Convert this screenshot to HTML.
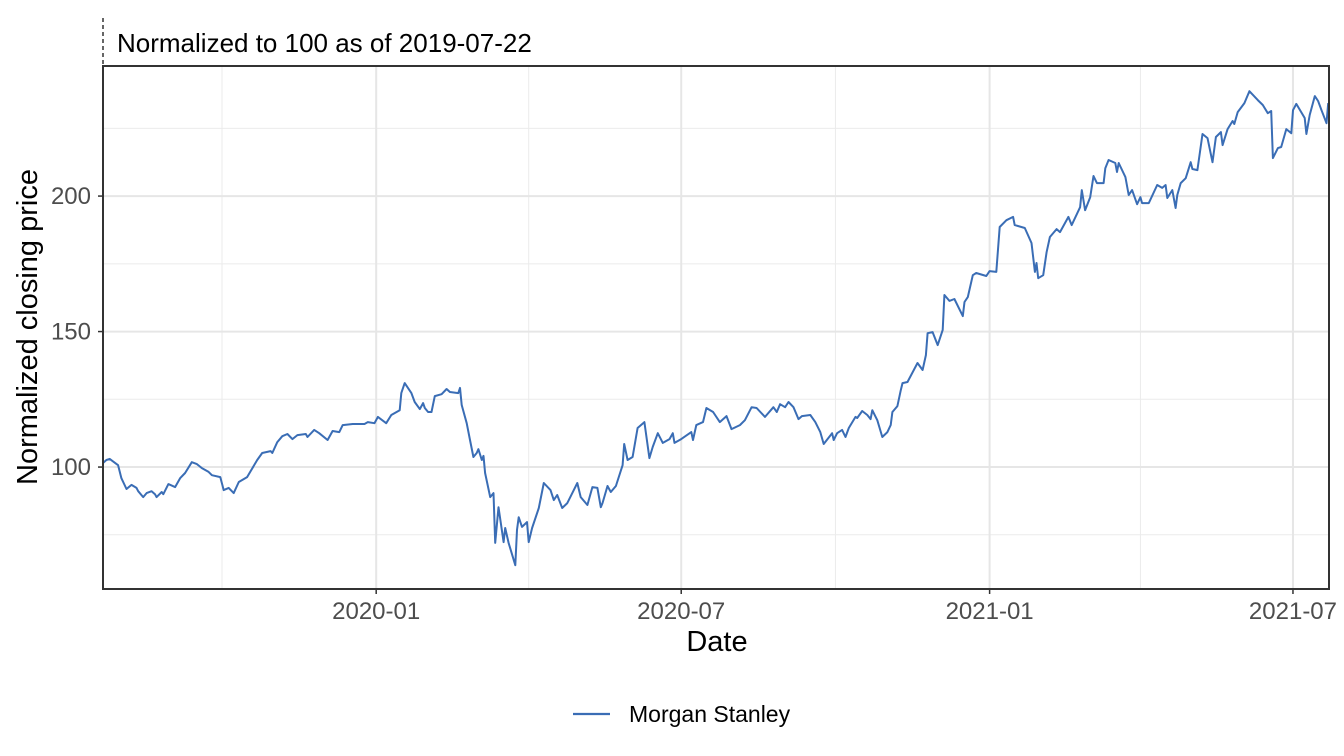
<!DOCTYPE html>
<html><head><meta charset="utf-8"><style>
html,body{margin:0;padding:0;background:#fff;}
svg{display:block;font-family:"Liberation Sans",sans-serif;}
</style></head><body>
<svg id="chart" width="1344" height="756">
<line x1="103" y1="18" x2="103" y2="66" stroke="#000" stroke-dasharray="4,3" stroke-width="1.2"/>
<text x="117" y="52" font-size="26" fill="#000">Normalized to 100 as of 2019-07-22</text>
<g id="grid"></g>
<g id="series"></g>
<rect x="103" y="66" width="1226" height="523" fill="none" stroke="#333" stroke-width="2"/>
<g id="axes"></g>
<text x="717" y="651" font-size="29" text-anchor="middle" fill="#000">Date</text>
<text transform="translate(37,327) rotate(-90)" font-size="29" text-anchor="middle" fill="#000">Normalized closing price</text>
<g>
<line x1="573" y1="714" x2="610" y2="714" stroke="#3a6db5" stroke-width="2.2"/>
<text x="629" y="722" font-size="23" fill="#000">Morgan Stanley</text>
</g>
</svg>
<script>
const days=[0,2,4,9,11,14,17,20,21,24,26,29,31,32,35,36,39,43,46,49,53,56,59,63,65,70,72,75,78,81,86,92,95,100,101,104,107,110,113,116,121,122,126,129,134,137,141,143,149,156,158,162,164,169,172,177,178,180,184,186,189,191,192,194,196,198,202,205,207,212,213,214,217,219,221,223,224,226,227,228,231,233,234,236,239,240,242,246,247,248,250,253,254,256,260,263,267,269,271,274,277,280,283,285,289,292,295,297,298,301,303,306,310,311,313,316,319,323,326,328,331,334,338,340,341,345,351,352,354,358,360,364,368,372,375,380,383,387,390,395,400,402,404,407,409,412,415,417,422,425,428,430,435,436,438,441,443,445,449,450,453,456,458,459,462,465,468,470,471,474,476,477,480,486,489,491,492,495,498,501,502,505,508,513,514,516,519,521,527,529,533,535,539,543,544,550,554,556,557,558,561,563,565,569,571,576,578,583,584,586,589,591,593,597,598,600,604,605,606,610,612,614,617,619,620,624,629,632,634,635,638,640,641,643,646,649,650,653,656,659,662,664,667,668,671,674,675,677,681,684,689,692,695,697,698,701,703,706,709,710,712,717,718,720,723,725,727,730,731];
const values=[101.5,102.6,103.0,100.7,95.9,91.9,93.4,92.3,91.1,88.9,90.4,91.1,90.0,88.9,90.8,90.0,93.7,92.6,95.9,97.8,101.8,101.1,99.6,98.2,97.0,96.3,91.5,92.3,90.4,94.5,96.3,102.6,105.2,105.9,105.2,109.2,111.4,112.2,110.3,111.8,112.2,111.1,113.7,112.5,110.0,113.3,112.9,115.5,115.9,115.9,116.6,116.2,118.5,116.2,119.2,121.0,127.3,131.0,127.3,124.0,121.4,123.6,121.8,120.3,120.3,126.2,126.9,128.8,127.7,127.3,129.2,122.9,116.2,110.0,103.7,105.2,106.6,102.6,104.1,97.8,88.9,90.4,72.0,85.2,72.3,77.5,72.0,63.8,76.8,81.5,77.9,79.7,72.3,77.5,84.9,94.1,91.5,87.8,89.7,84.9,86.7,90.4,94.1,88.9,86.0,92.6,92.3,85.2,86.7,93.0,90.8,93.0,100.7,108.5,102.6,103.7,114.4,116.6,103.3,107.4,112.5,108.9,110.3,112.5,108.9,110.3,112.9,110.0,115.5,116.6,121.8,120.3,116.6,118.8,114.0,115.5,117.3,122.1,121.8,118.5,122.1,120.3,123.2,122.1,124.0,122.1,117.7,118.8,119.2,116.6,112.9,108.5,112.5,110.0,112.5,113.7,111.1,114.4,118.5,118.1,120.7,119.2,117.7,121.0,117.3,111.1,112.9,115.5,120.3,122.5,128.4,131.0,131.4,138.4,135.8,141.3,149.4,149.8,145.0,150.6,163.5,161.3,162.0,155.7,160.9,162.7,170.8,171.6,170.5,172.3,172.0,188.6,191.1,192.3,189.3,188.2,182.7,172.0,175.3,169.7,170.8,179.3,184.9,187.8,186.7,192.3,189.3,195.9,202.2,194.8,199.6,207.4,204.8,204.8,210.3,213.3,212.2,208.9,212.2,207.0,200.4,202.2,197.0,199.6,197.4,197.4,204.1,203.0,204.1,199.3,202.2,195.6,200.4,204.8,206.6,212.5,210.0,209.6,222.9,221.4,212.5,221.8,223.6,218.8,224.7,227.7,226.6,231.0,234.3,238.7,235.4,233.6,230.6,231.4,214.0,217.7,218.1,224.7,223.2,231.7,234.0,228.8,222.9,229.9,236.9,235.1,231.7,226.9,234.3];
const xTickDays=[163,345,529,710];
const xTickLabels=["2020-01","2020-07","2021-01","2021-07"];
const xMinorDays=[71,254,437,619];
const yTicks=[100,150,200];
const yMinor=[75,125,175,225];

const NS="http://www.w3.org/2000/svg";
const L=103,R=1329,T=66,B=589;
const D0=0,D1=731.5,V0=55,V1=248;
function xs(d){return L+(d-D0)/(D1-D0)*(R-L);}
function ys(v){return B-(v-V0)/(V1-V0)*(B-T);}
function mk(tag,attrs,parent){const e=document.createElementNS(NS,tag);for(const k in attrs)e.setAttribute(k,attrs[k]);parent.appendChild(e);return e;}
const grid=document.getElementById('grid'),axes=document.getElementById('axes'),series=document.getElementById('series');
yMinor.forEach(v=>{const e=mk('line',{x1:L,x2:R,y1:ys(v),y2:ys(v),stroke:'#ebebeb','stroke-width':1},grid);

});
xMinorDays.forEach(d=>{const e=mk('line',{x1:xs(d),x2:xs(d),y1:T,y2:B,stroke:'#ebebeb','stroke-width':1},grid);

});
yTicks.forEach(v=>{const e=mk('line',{x1:L,x2:R,y1:ys(v),y2:ys(v),stroke:'#e6e6e6','stroke-width':2},grid);


const t=mk('line',{x1:L-5,x2:L,y1:ys(v),y2:ys(v),stroke:'#333','stroke-width':1.5},axes);


const tx=mk('text',{x:L-12,y:ys(v)+8,'font-size':24,'text-anchor':'end',fill:'#4d4d4d'},axes);tx.textContent=v;

});
xTickDays.forEach((d,i)=>{const e=mk('line',{x1:xs(d),x2:xs(d),y1:T,y2:B,stroke:'#e6e6e6','stroke-width':2},grid);


const t=mk('line',{x1:xs(d),x2:xs(d),y1:B,y2:B+5,stroke:'#333','stroke-width':1.5},axes);


const tx=mk('text',{x:xs(d),y:B+30,'font-size':24,'text-anchor':'middle',fill:'#4d4d4d'},axes);tx.textContent=xTickLabels[i];

});
const pts=days.map((d,i)=>xs(d).toFixed(1)+','+ys(values[i]).toFixed(1)).join(' ');
const line=mk('polyline',{points:pts,fill:'none',stroke:'#3a6db5','stroke-width':2,'stroke-linejoin':'round'},series);


</script>
</body></html>
